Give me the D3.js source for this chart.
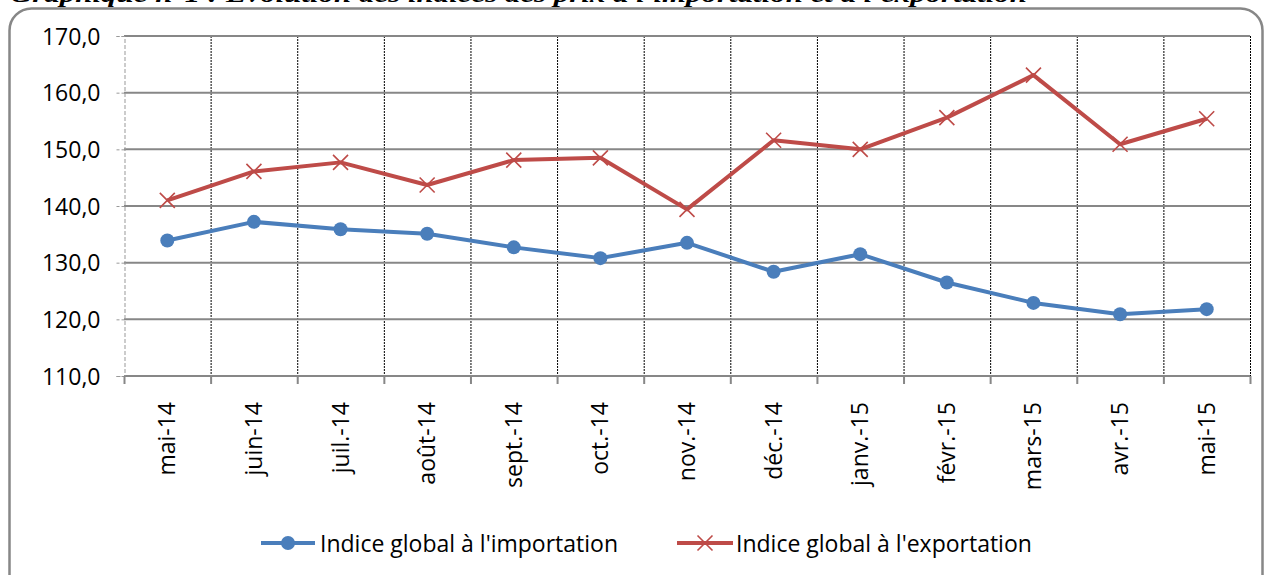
<!DOCTYPE html>
<html>
<head>
<meta charset="utf-8">
<script src="https://cdnjs.cloudflare.com/ajax/libs/d3/7.8.5/d3.min.js"></script>
<style>
    html, body { margin: 0; padding: 0; background: #fff; overflow: hidden; }
    svg { display: block; }
    .lbl { font-family: "Open Sans", sans-serif; font-size: 23px; fill: #000; }
</style>
</head>
<body>
<div id="chart-wrapper"></div>
<script>
var months = ["mai-14", "juin-14", "juil.-14", "août-14", "sept.-14", "oct.-14", "nov.-14",
              "déc.-14", "janv.-15", "févr.-15", "mars-15", "avr.-15", "mai-15"];
var importValues = [133.9, 137.2, 135.9, 135.1, 132.7, 130.8, 133.5, 128.4, 131.5, 126.5, 122.9, 120.9, 121.8];
var exportValues = [141.0, 146.1, 147.7, 143.7, 148.1, 148.5, 139.4, 151.6, 150.0, 155.6, 163.1, 150.9, 155.4];
var yTicks = [110, 120, 130, 140, 150, 160, 170];
var seriesNames = ["Indice global à l'importation", "Indice global à l'exportation"];
var titleText = "Graphique n°1 : Evolution des indices des prix à l'importation et à l'exportation";

var blue = "#4a7ebb";
var red = "#be4b48";
var gridGray = "#878787";

var width = 1266, height = 575;
var plot = {left: 124, right: 1250, top: 36, bottom: 376};

makeChart("#chart-wrapper");

function makeChart(sel) {
    var svg = d3.select(sel).append("svg")
        .attr("width", width)
        .attr("height", height);

    // title, mostly cut off by the top of the picture
    svg.append("text")
        .attr("x", 10)
        .attr("y", 2)
        .attr("textLength", 1017)
        .attr("lengthAdjust", "spacingAndGlyphs")
        .style("font-family", "'Liberation Serif', serif")
        .style("font-weight", "bold")
        .style("font-style", "italic")
        .style("font-size", "24px")
        .text(titleText);

    // rounded chart frame
    svg.append("rect")
        .attr("x", 9.5).attr("y", 8.5)
        .attr("width", 1253).attr("height", 620)
        .attr("rx", 22).attr("ry", 22)
        .attr("fill", "none")
        .attr("stroke", gridGray)
        .attr("stroke-width", 2.5);

    var x = d3.scaleBand().domain(months).range([plot.left, plot.right]).padding(0);
    var y = d3.scaleLinear().domain([110, 170]).range([plot.bottom, plot.top]);
    var xc = function(d, i) { return x(months[i]) + x.bandwidth() / 2; };

    // vertical dotted gridlines at category borders
    var borders = months.slice(1).map(function(m) { return x(m); }).concat([plot.right]);
    svg.append("g").selectAll("line").data(borders).enter().append("line")
        .attr("x1", function(d) { return d + 0.5; })
        .attr("x2", function(d) { return d + 0.5; })
        .attr("y1", plot.top).attr("y2", plot.bottom)
        .attr("stroke", "#000")
        .attr("stroke-width", 1)
        .attr("stroke-dasharray", "2,1");

    // horizontal gridlines
    svg.append("g").selectAll("line").data(yTicks).enter().append("line")
        .attr("x1", plot.left).attr("x2", plot.right)
        .attr("y1", function(d) { return y(d); })
        .attr("y2", function(d) { return y(d); })
        .attr("stroke", gridGray)
        .attr("stroke-width", 2);

    // y axis (dashed, light) with labels
    var yAxis = d3.axisLeft(y).tickValues(yTicks).tickSize(8).tickPadding(16)
        .tickFormat(function(d) { return d3.format(".1f")(d).replace(".", ","); });
    var gy = svg.append("g").attr("transform", "translate(" + (plot.left + 0.5) + ",0)").call(yAxis);
    gy.select(".domain").attr("stroke", "#999").attr("stroke-dasharray", "4,2");
    gy.selectAll(".tick line").attr("stroke", "#999").attr("stroke-dasharray", "3,2");
    gy.selectAll("text").attr("class", "lbl").attr("fill", "#000").attr("dy", "0.36em");

    // x axis: tick marks on borders, rotated labels
    var tickPos = [plot.left].concat(borders);
    svg.append("g").selectAll("line").data(tickPos).enter().append("line")
        .attr("x1", function(d) { return d + 0.5; })
        .attr("x2", function(d) { return d + 0.5; })
        .attr("y1", plot.bottom).attr("y2", plot.bottom + 8)
        .attr("stroke", gridGray)
        .attr("stroke-width", 2);

    svg.append("g").selectAll("text").data(months).enter().append("text")
        .attr("class", "lbl")
        .attr("text-anchor", "end")
        .attr("transform", function(d, i) {
            return "translate(" + (xc(d, i) + 8) + "," + (plot.bottom + 26) + ") rotate(-90)";
        })
        .text(function(d) { return d; });

    var line = d3.line().x(xc).y(function(d) { return y(d); });

    // import series
    svg.append("path").datum(importValues)
        .attr("d", line)
        .attr("fill", "none")
        .attr("stroke", blue)
        .attr("stroke-width", 4)
        .attr("stroke-linejoin", "round");
    svg.append("g").selectAll("circle").data(importValues).enter().append("circle")
        .attr("cx", xc)
        .attr("cy", function(d) { return y(d); })
        .attr("r", 7)
        .attr("fill", blue);

    // export series
    svg.append("path").datum(exportValues)
        .attr("d", line)
        .attr("fill", "none")
        .attr("stroke", red)
        .attr("stroke-width", 4)
        .attr("stroke-linejoin", "round");
    svg.append("g").selectAll("path").data(exportValues).enter().append("path")
        .attr("d", function(d, i) { return crossPath(xc(d, i), y(d), 7.5); })
        .attr("stroke", red)
        .attr("stroke-width", 1.6)
        .attr("fill", "none");

    // legend
    var legendY = 543;
    var leg = svg.append("g");
    leg.append("line").attr("x1", 261).attr("x2", 315).attr("y1", legendY).attr("y2", legendY)
        .attr("stroke", blue).attr("stroke-width", 4);
    leg.append("circle").attr("cx", 288).attr("cy", legendY).attr("r", 7).attr("fill", blue);
    leg.append("text").attr("class", "lbl").attr("x", 320).attr("y", legendY + 9).text(seriesNames[0]);

    leg.append("line").attr("x1", 677).attr("x2", 733).attr("y1", legendY).attr("y2", legendY)
        .attr("stroke", red).attr("stroke-width", 4);
    leg.append("path").attr("d", crossPath(705, legendY, 7.5))
        .attr("stroke", red).attr("stroke-width", 1.6).attr("fill", "none");
    leg.append("text").attr("class", "lbl").attr("x", 736).attr("y", legendY + 9).text(seriesNames[1]);
}

function crossPath(cx, cy, s) {
    return "M" + (cx - s) + "," + (cy - s) + "L" + (cx + s) + "," + (cy + s) +
           "M" + (cx - s) + "," + (cy + s) + "L" + (cx + s) + "," + (cy - s);
}
</script>
</body>
</html>
